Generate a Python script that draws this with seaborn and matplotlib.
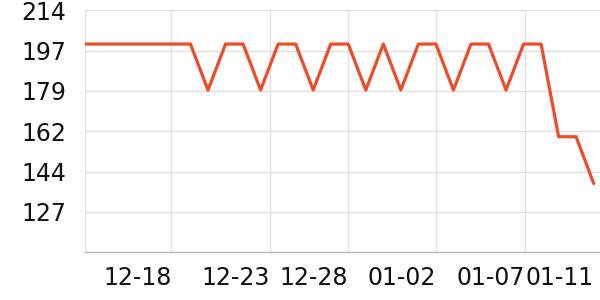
import matplotlib
matplotlib.use("Agg")
import matplotlib.pyplot as plt
import seaborn as sns
import pandas as pd
import numpy as np

start_date = "2023-12-13"
values = [199.6, 199.6, 199.6, 199.6, 199.6, 199.6, 199.6, 179.7, 199.6, 199.6,
          179.7, 199.6, 199.6, 179.7, 199.6, 199.6, 179.7, 199.6, 179.7, 199.6,
          199.6, 179.7, 199.6, 199.6, 179.7, 199.6, 199.6, 159.5, 159.5, 139.3]
tick_dates = ["2023-12-17 22:00", "2023-12-23 13:00", "2023-12-27 23:00", "2024-01-02 00:00", "2024-01-07 02:00", "2024-01-11 00:00"]
tick_labels = ["12-18", "12-23", "12-28", "01-02", "01-07", "01-11"]
grid_dates = ["2023-12-17 22:00", "2023-12-23 13:00", "2023-12-27 23:00", "2024-01-02 00:00", "2024-01-07 02:00"]
y_ticks = [126.95, 144.4, 161.85, 179.3, 196.75, 214.2]
y_tick_labels = ["127", "144", "162", "179", "197", "214"]

dates = pd.date_range(start_date, periods=len(values), freq="D")
df = pd.DataFrame({"date": dates, "value": values})

sns.set_theme(style="white")
plt.rcParams["font.family"] = ["DejaVu Sans"]

fig = plt.figure(figsize=(6, 3), dpi=100)
ax = fig.add_axes([85.3 / 600, 1 - 252.3 / 300, (600 - 85.3) / 600, (252.3 - 10.3) / 300])

sns.lineplot(data=df, x="date", y="value", ax=ax, color="#ee4b2b", linewidth=2.3)

ax.set_ylim(109.5, 214.2)
x0 = pd.Timestamp(start_date)
ax.set_xlim(x0, x0 + pd.Timedelta(days=29.36))

tick_ts = pd.to_datetime(tick_dates, format="%Y-%m-%d %H:%M")
grid_ts = pd.to_datetime(grid_dates, format="%Y-%m-%d %H:%M")

ax.set_yticks(y_ticks)
ax.set_yticklabels(y_tick_labels)
ax.set_xticks(tick_ts)
ax.set_xticklabels(tick_labels, ha="right")

for y in y_ticks:
    ax.axhline(y, color="#e0e0e0", linewidth=1, zorder=0)
for d in grid_ts:
    ax.axvline(d, color="#e0e0e0", linewidth=1, zorder=0)
ax.axvline(x0, color="#e0e0e0", linewidth=1, zorder=0)

for s in ["top", "right", "left"]:
    ax.spines[s].set_visible(False)
ax.spines["bottom"].set_color("#b8b8b8")
ax.spines["bottom"].set_linewidth(1)

ax.tick_params(axis="y", length=0, pad=14, labelsize=17, labelcolor="#111111")
ax.tick_params(axis="x", length=3, width=1, color="#b8b8b8", pad=7, labelsize=17, labelcolor="#111111")
ax.set_xlabel("")
ax.set_ylabel("")

fig.savefig("out.png", dpi=100)
